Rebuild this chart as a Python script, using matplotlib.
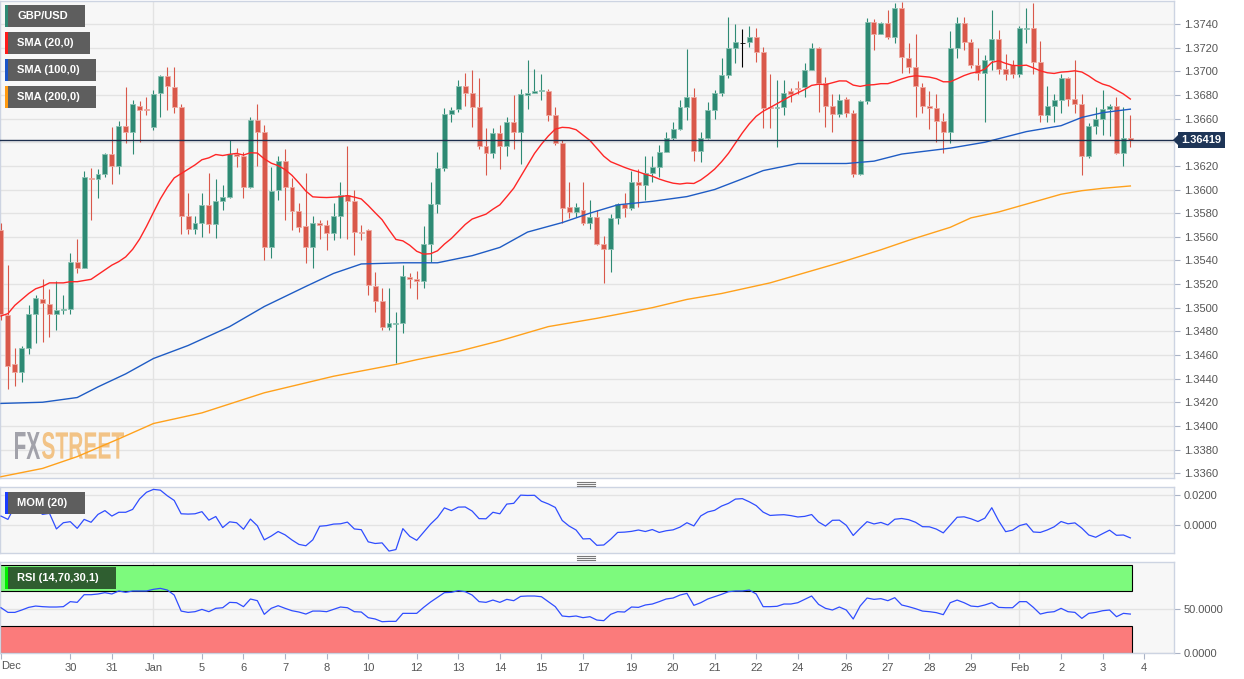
import numpy as np
import matplotlib
matplotlib.use("Agg")
import matplotlib.pyplot as plt
from matplotlib.patches import Rectangle, PathPatch, Polygon
from matplotlib.textpath import TextPath
from matplotlib.font_manager import FontProperties
from matplotlib.transforms import Affine2D
from matplotlib.lines import Line2D

plt.rcParams['font.family'] = ['Liberation Sans', 'DejaVu Sans']

# ---- data: GBP/USD 4h candles ----
opens = [
    1.3566, 1.3494, 1.3452, 1.3446, 1.3466, 1.3495, 1.3507, 1.3503, 1.3495, 1.3498,
    1.3499, 1.3539, 1.3534, 1.3610, 1.3609, 1.3613, 1.3630, 1.3620, 1.3654, 1.3649,
    1.3671, 1.3668, 1.3653, 1.3682, 1.3696, 1.3687, 1.3670, 1.3578, 1.3567, 1.3572,
    1.3587, 1.3571, 1.3590, 1.3594, 1.3630, 1.3628, 1.3602, 1.3659, 1.3649, 1.3551,
    1.3600, 1.3624, 1.3602, 1.3582, 1.3569, 1.3551, 1.3572, 1.3570, 1.3563, 1.3578,
    1.3595, 1.3590, 1.3564, 1.3566, 1.3518, 1.3506, 1.3484, 1.3486, 1.3487, 1.3526,
    1.3524, 1.3523, 1.3554, 1.3588, 1.3618, 1.3664, 1.3668, 1.3688, 1.3682, 1.3670,
    1.3637, 1.3631, 1.3648, 1.3637, 1.3657, 1.3649, 1.3680, 1.3682, 1.3683, 1.3683,
    1.3663, 1.3639, 1.3585, 1.3581, 1.3583, 1.3572, 1.3577, 1.3554, 1.3550, 1.3576,
    1.3588, 1.3584, 1.3606, 1.3604, 1.3614, 1.3619, 1.3632, 1.3644, 1.3651, 1.3670,
    1.3678, 1.3633, 1.3644, 1.3667, 1.3682, 1.3697, 1.3720, 1.3724, 1.3725, 1.3729,
    1.3716, 1.3670, 1.3669, 1.3670, 1.3683, 1.3686, 1.3687, 1.3701, 1.3720, 1.3690,
    1.3671, 1.3664, 1.3677, 1.3665, 1.3613, 1.3675, 1.3742, 1.3732, 1.3741, 1.3729,
    1.3754, 1.3711, 1.3704, 1.3687, 1.3671, 1.3669, 1.3658, 1.3649, 1.3720, 1.3741,
    1.3725, 1.3705, 1.3699, 1.3710, 1.3727, 1.3702, 1.3705, 1.3698, 1.3736, 1.3737,
    1.3708, 1.3663, 1.3671, 1.3676, 1.3694, 1.3677, 1.3672, 1.3628, 1.3654, 1.3660,
    1.3668, 1.3671, 1.3631, 1.3644]
highs = [
    1.3572, 1.3536, 1.3466, 1.3468, 1.3502, 1.3511, 1.3524, 1.3516, 1.3523, 1.3511,
    1.3546, 1.3558, 1.3616, 1.3618, 1.3617, 1.3631, 1.3653, 1.3658, 1.3687, 1.3676,
    1.3675, 1.3678, 1.3684, 1.3697, 1.3704, 1.3704, 1.3672, 1.3597, 1.3578, 1.3597,
    1.3614, 1.3609, 1.3604, 1.3642, 1.3635, 1.3632, 1.3661, 1.3672, 1.3655, 1.3619,
    1.3628, 1.3634, 1.3610, 1.3589, 1.3614, 1.3578, 1.3574, 1.3574, 1.3589, 1.3606,
    1.3637, 1.3600, 1.3570, 1.3567, 1.3530, 1.3517, 1.3517, 1.3496, 1.3536, 1.3529,
    1.3531, 1.3569, 1.3606, 1.3632, 1.3669, 1.3670, 1.3693, 1.3699, 1.3701, 1.3694,
    1.3652, 1.3652, 1.3655, 1.3661, 1.3680, 1.3685, 1.3710, 1.3702, 1.3698, 1.3685,
    1.3670, 1.3642, 1.3606, 1.3589, 1.3606, 1.3591, 1.3583, 1.3561, 1.3579, 1.3589,
    1.3597, 1.3616, 1.3617, 1.3628, 1.3628, 1.3638, 1.3649, 1.3657, 1.3676, 1.3719,
    1.3686, 1.3649, 1.3674, 1.3684, 1.3711, 1.3746, 1.3740, 1.3736, 1.3738, 1.3737,
    1.3721, 1.3698, 1.3693, 1.3693, 1.3686, 1.3692, 1.3707, 1.3724, 1.3721, 1.3695,
    1.3681, 1.3681, 1.3678, 1.3667, 1.3676, 1.3745, 1.3744, 1.3742, 1.3752, 1.3758,
    1.3759, 1.3724, 1.3732, 1.3690, 1.3683, 1.3681, 1.3665, 1.3734, 1.3746, 1.3746,
    1.3727, 1.3720, 1.3714, 1.3752, 1.3735, 1.3715, 1.3710, 1.3738, 1.3754, 1.3758,
    1.3726, 1.3688, 1.3681, 1.3698, 1.3695, 1.3710, 1.3681, 1.3656, 1.3670, 1.3684,
    1.3672, 1.3678, 1.3670, 1.3663]
lows = [
    1.3490, 1.3431, 1.3434, 1.3437, 1.3461, 1.3470, 1.3471, 1.3475, 1.3481, 1.3495,
    1.3495, 1.3529, 1.3534, 1.3574, 1.3593, 1.3611, 1.3605, 1.3613, 1.3639, 1.3630,
    1.3640, 1.3663, 1.3650, 1.3661, 1.3667, 1.3665, 1.3562, 1.3562, 1.3562, 1.3560,
    1.3563, 1.3559, 1.3583, 1.3593, 1.3619, 1.3593, 1.3601, 1.3620, 1.3540, 1.3542,
    1.3591, 1.3574, 1.3566, 1.3564, 1.3538, 1.3534, 1.3558, 1.3549, 1.3557, 1.3559,
    1.3558, 1.3545, 1.3557, 1.3511, 1.3496, 1.3481, 1.3481, 1.3453, 1.3479, 1.3517,
    1.3507, 1.3517, 1.3539, 1.3580, 1.3616, 1.3657, 1.3666, 1.3671, 1.3653, 1.3634,
    1.3612, 1.3627, 1.3617, 1.3628, 1.3634, 1.3622, 1.3668, 1.3682, 1.3676, 1.3658,
    1.3638, 1.3572, 1.3576, 1.3577, 1.3570, 1.3567, 1.3553, 1.3521, 1.3530, 1.3571,
    1.3577, 1.3583, 1.3585, 1.3591, 1.3606, 1.3611, 1.3632, 1.3642, 1.3650, 1.3659,
    1.3624, 1.3623, 1.3643, 1.3660, 1.3679, 1.3694, 1.3707, 1.3704, 1.3721, 1.3708,
    1.3652, 1.3652, 1.3636, 1.3663, 1.3674, 1.3681, 1.3678, 1.3701, 1.3666, 1.3653,
    1.3649, 1.3661, 1.3661, 1.3611, 1.3612, 1.3672, 1.3718, 1.3732, 1.3727, 1.3724,
    1.3699, 1.3699, 1.3661, 1.3665, 1.3651, 1.3640, 1.3631, 1.3639, 1.3711, 1.3718,
    1.3703, 1.3693, 1.3657, 1.3701, 1.3698, 1.3693, 1.3694, 1.3695, 1.3724, 1.3698,
    1.3657, 1.3657, 1.3657, 1.3665, 1.3671, 1.3665, 1.3612, 1.3627, 1.3647, 1.3646,
    1.3645, 1.3630, 1.3620, 1.3636]
closes = [
    1.3495, 1.3451, 1.3446, 1.3466, 1.3495, 1.3508, 1.3504, 1.3495, 1.3498, 1.3499,
    1.3539, 1.3534, 1.3611, 1.3609, 1.3613, 1.3630, 1.3620, 1.3654, 1.3649, 1.3672,
    1.3667, 1.3667, 1.3681, 1.3696, 1.3688, 1.3670, 1.3578, 1.3567, 1.3572, 1.3587,
    1.3571, 1.3590, 1.3594, 1.3630, 1.3628, 1.3602, 1.3659, 1.3649, 1.3551, 1.3599,
    1.3624, 1.3602, 1.3582, 1.3568, 1.3551, 1.3572, 1.3570, 1.3563, 1.3578, 1.3595,
    1.3590, 1.3564, 1.3563, 1.3519, 1.3506, 1.3484, 1.3487, 1.3487, 1.3527, 1.3524,
    1.3523, 1.3554, 1.3588, 1.3618, 1.3664, 1.3667, 1.3688, 1.3682, 1.3670, 1.3637,
    1.3631, 1.3648, 1.3637, 1.3657, 1.3649, 1.3681, 1.3682, 1.3683, 1.3684, 1.3663,
    1.3639, 1.3584, 1.3581, 1.3585, 1.3572, 1.3577, 1.3554, 1.3550, 1.3576, 1.3588,
    1.3584, 1.3606, 1.3604, 1.3614, 1.3619, 1.3632, 1.3644, 1.3651, 1.3670, 1.3678,
    1.3633, 1.3644, 1.3667, 1.3682, 1.3697, 1.3720, 1.3725, 1.3724, 1.3729, 1.3716,
    1.3669, 1.3669, 1.3670, 1.3682, 1.3681, 1.3685, 1.3701, 1.3720, 1.3690, 1.3671,
    1.3664, 1.3676, 1.3665, 1.3613, 1.3675, 1.3742, 1.3732, 1.3741, 1.3729, 1.3754,
    1.3712, 1.3704, 1.3688, 1.3671, 1.3669, 1.3658, 1.3649, 1.3720, 1.3741, 1.3725,
    1.3705, 1.3699, 1.3710, 1.3727, 1.3702, 1.3698, 1.3698, 1.3737, 1.3737, 1.3708,
    1.3663, 1.3671, 1.3676, 1.3694, 1.3677, 1.3672, 1.3628, 1.3654, 1.3660, 1.3668,
    1.3671, 1.3631, 1.3644, 1.36419]
last_price = 1.36419

# indicator values that need history before the first visible candle
sma20_early = [1.3493, 1.3495, 1.3502, 1.3507, 1.3512, 1.3516, 1.3518, 1.3521, 1.3521, 1.3521,
               1.3522, 1.3522, 1.3523, 1.3524, 1.3528, 1.3532, 1.3536, 1.3539, 1.3543]
mom_early = [0.0059, 0.0037, 0.0125, 0.0110, 0.0095, 0.0103, 0.0070, 0.0077, -0.0026, 0.0015,
             0.0022, -0.0022, 0.0037, 0.0018, 0.0070, 0.0095, 0.0059, 0.0084, 0.0084, 0.0103]

sma100_idx = [0, 6, 11, 14, 18, 22, 27, 33, 38, 44, 48, 52, 58, 63, 68, 72, 76, 81, 85, 89,
              94, 99, 103, 107, 110, 115, 122, 126, 130, 137, 142, 148, 153, 156, 159, 163]
sma100_val = [1.3419, 1.3420, 1.3424, 1.3433, 1.3444, 1.3457, 1.3468, 1.3484, 1.3501, 1.3518,
              1.3529, 1.3537, 1.3538, 1.3538, 1.3544, 1.3551, 1.3564, 1.3572, 1.3580, 1.3587,
              1.3590, 1.3594, 1.3600, 1.3609, 1.3616, 1.3622, 1.3622, 1.3624, 1.3630, 1.3635,
              1.3640, 1.3649, 1.3654, 1.3661, 1.3665, 1.3668]
sma200_idx = [0, 6, 11, 17, 22, 29, 38, 48, 57, 60, 66, 72, 79, 86, 94, 99, 104, 111, 121,
              127, 131, 137, 140, 144, 150, 153, 156, 159, 163]
sma200_val = [1.3357, 1.3364, 1.3374, 1.3389, 1.3402, 1.3411, 1.3428, 1.3442, 1.3452, 1.3456,
              1.3463, 1.3472, 1.3484, 1.3491, 1.3500, 1.3507, 1.3512, 1.3521, 1.3538, 1.3549,
              1.3557, 1.3568, 1.3576, 1.3581, 1.3591, 1.3596, 1.3599, 1.3601, 1.3603]

rsi = [51.1, 45.8, 45.8, 48.5, 51.5, 53.0, 52.3, 51.9, 51.9, 52.3, 58.0, 57.2, 65.9, 65.9, 66.7,
       68.2, 66.7, 70.1, 68.6, 70.1, 70.1, 70.1, 72.0, 73.1, 71.2, 65.5, 47.3, 45.8, 46.6, 49.2,
       46.6, 50.4, 51.1, 57.2, 56.8, 52.3, 61.0, 59.1, 43.6, 50.4, 53.4, 50.4, 47.7, 46.2, 43.9,
       47.3, 47.3, 46.6, 49.2, 51.9, 51.1, 46.6, 46.2, 39.8, 38.3, 35.2, 35.6, 35.6, 44.7, 44.7,
       44.7, 51.5, 57.6, 62.9, 68.2, 68.6, 70.5, 69.3, 65.5, 58.0, 57.2, 59.8, 57.2, 60.6, 59.1,
       64.0, 64.4, 64.4, 63.6, 58.0, 52.3, 41.7, 40.9, 41.7, 39.8, 40.9, 37.1, 36.4, 43.6, 46.6,
       46.2, 51.9, 51.5, 54.2, 55.3, 58.0, 61.0, 62.1, 65.5, 67.4, 53.8, 56.8, 61.0, 63.6, 66.3,
       69.3, 70.1, 70.1, 71.2, 66.7, 52.3, 52.3, 52.7, 55.3, 55.3, 56.8, 60.6, 64.4, 54.9, 50.4,
       48.5, 51.9, 48.5, 38.3, 53.0, 62.1, 60.6, 61.4, 59.1, 62.5, 54.2, 52.3, 50.0, 47.3, 46.6,
       45.5, 43.2, 56.8, 59.8, 56.8, 53.0, 52.3, 54.2, 56.8, 51.5, 51.1, 51.1, 58.0, 58.0, 51.5,
       43.9, 45.8, 46.6, 50.4, 46.6, 45.8, 39.0, 44.7, 45.8, 47.7, 48.5, 40.9, 44.7, 43.9]

tick_pos = [10, 16, 22, 29, 35, 41, 47, 53, 60, 66, 72, 78, 84, 91, 97, 103, 109, 115, 122,
            128, 134, 140, 147, 153, 159, 165]
tick_lab = ['30', '31', 'Jan', '5', '6', '7', '8', '10', '12', '13', '14', '15', '17', '19',
            '20', '21', '22', '24', '26', '27', '28', '29', 'Feb', '2', '3', '4']
month_pos = [22, 147]

GREEN, RED = '#2e8a74', '#d9584a'
GRID, FRAME = '#e3e3e3', '#cdd4e2'
TXT = '#555555'

W, H = 1244, 679
fig = plt.figure(figsize=(W / 100, H / 100), dpi=100)
fig.patch.set_facecolor('white')


def fbox(x, y, w, h):
    # pixel box (origin top-left) -> figure fraction
    return [x / W, 1 - (y + h) / H, w / W, h / H]


ax = fig.add_axes(fbox(0, 1, 1174, 477))
axm = fig.add_axes(fbox(0, 487.3, 1174, 65.4))
axr = fig.add_axes(fbox(0, 562.3, 1174, 91))

n = len(closes)
idx = np.arange(n)
o, hi, lo, c = map(np.array, (opens, highs, lows, closes))

for a in (ax, axm, axr):
    a.set_facecolor('#f7f7f7')
    a.set_xlim(-0.144, 169.3)
    for s in a.spines.values():
        s.set_color(FRAME)
        s.set_linewidth(1)
    a.yaxis.tick_right()
    a.tick_params(axis='y', length=4, width=0.8, color='#aab3c6', labelsize=8,
                  labelcolor=TXT, pad=3)
    a.grid(axis='y', color=GRID, lw=1, zorder=0)
    a.set_axisbelow(True)
    for m in month_pos:
        a.axvline(m, color=GRID, lw=1, zorder=0.5)
ax.tick_params(axis='x', bottom=False, labelbottom=False)
axm.tick_params(axis='x', bottom=False, labelbottom=False)

# ---- main panel ----
ax.set_ylim(1.33559, 1.37595)
yt = np.round(np.arange(1.3360, 1.37401, 0.002), 4)
ax.set_yticks(yt)
ax.set_yticklabels(['' if abs(v - 1.3640) < 1e-6 else f'{v:.4f}' for v in yt])

cols = np.where(c > o, GREEN, np.where(c < o, RED, '#000000'))
edges = np.where(c > o, '#8cc2b3', np.where(c < o, '#eeaaa2', '#000000'))
ax.vlines(idx, lo, hi, colors=cols, lw=0.8, zorder=3)
body_lo = np.minimum(o, c)
body_h = np.maximum(np.abs(c - o), 0.00003)
ax.bar(idx, body_h, bottom=body_lo, width=0.72, color=cols, edgecolor=edges,
       linewidth=0.6, zorder=4)

sma20 = np.array([sma20_early[i] if i < 19 else c[i - 19:i + 1].mean() for i in idx])
ax.plot(idx, sma20, color='#ff2626', lw=1.0, zorder=5)
ax.plot(sma100_idx, sma100_val, color='#1f5cc4', lw=1.0, zorder=5)
ax.plot(sma200_idx, sma200_val, color='#ffa11c', lw=1.0, zorder=5)
ax.axhline(last_price, color='#1e2f4e', lw=1, zorder=6)

# watermark
fp = FontProperties(family=['Liberation Sans Narrow', 'Liberation Sans'], weight='bold')


def logo(txt, x0, x1, color):
    tp = TextPath((0, 0), txt, size=10, prop=fp)
    bb = tp.get_extents()
    tr = Affine2D().translate(-bb.x0, -bb.y0).scale((x1 - x0) / bb.width, 27 / bb.height) \
        .translate(x0, H - 459)
    ax.add_patch(PathPatch(tp, transform=tr, fc=color, ec='none', zorder=1))


logo('FX', 15, 40, '#a2a2aa')
logo('STREET', 42, 124, '#f2c386')

# ---- momentum ----
mom = np.array([mom_early[i] if i < 20 else c[i] - c[i - 20] for i in idx])
axm.set_ylim(-0.01828, 0.02488)
axm.set_yticks([0.0, 0.02])
axm.set_yticklabels(['0.0000', '0.0200'])
axm.plot(idx, mom, color='#2f4dff', lw=0.9, zorder=3)

# ---- RSI ----
axr.set_ylim(-0.68, 102.7)
axr.set_yticks([0, 50])
axr.set_yticklabels(['0.0000', '50.0000'])
band_end = n - 1 + 0.2
axr.add_patch(Rectangle((-0.144, 70), band_end + 0.144, 30, fc='#7dfa7d', ec='black',
                        lw=0.8, zorder=1))
axr.add_patch(Rectangle((-0.144, 0), band_end + 0.144, 30, fc='#fb7b7b', ec='black',
                        lw=0.8, zorder=1))
axr.plot(idx, rsi, color='#2f4dff', lw=0.9, zorder=3)
axr.set_xticks([0] + tick_pos)
axr.set_xticklabels([''] + tick_lab)
axr.tick_params(axis='x', length=4, width=0.8, color='#aab3c6', labelsize=8,
                labelcolor=TXT, pad=3)
fig.text(1 / W, 1 - 666 / H, 'Dec', ha='left', va='center', fontsize=8, color=TXT)

# ---- legend boxes ----
def tag(x, y, w, h, strip, label, fc='#5e5e5e'):
    fig.add_artist(Rectangle(fbox(x, y, w, h)[:2], w / W, h / H, transform=fig.transFigure,
                             fc=fc, ec='none', zorder=5))
    fig.add_artist(Rectangle(fbox(x, y, 3, h)[:2], 3 / W, h / H, transform=fig.transFigure,
                             fc=strip, ec='none', zorder=6))
    fig.text((x + 12) / W, 1 - (y + h / 2) / H, label, color='white', fontsize=8,
             fontweight='bold', va='center', ha='left', zorder=7)


tag(5, 5, 80, 22, '#2e8a74', 'GBP/USD')
tag(5, 32, 85, 22, '#ff1a1a', 'SMA (20,0)')
tag(5, 59, 91, 22, '#1a55c8', 'SMA (100,0)')
tag(5, 86, 91, 22, '#ff9a10', 'SMA (200,0)')
tag(5, 492, 80, 22, '#1a3cff', 'MOM (20)')
tag(5, 567, 111, 22, '#00ee00', 'RSI (14,70,30,1)', fc='#2f5e30')

# current price label
fig.text(1201.5 / W, 1 - 140 / H, f'{last_price:.5f}', ha='center', va='center', color='white',
         fontsize=8, fontweight='bold', zorder=8,
         bbox=dict(boxstyle='square,pad=0.28', fc='#1e3557', ec='none'))
fig.add_artist(Polygon([[1173 / W, 1 - 140 / H], [1178 / W, 1 - 135 / H], [1178 / W, 1 - 145 / H]],
                       closed=True, transform=fig.transFigure, fc='#1e3557', ec='none', zorder=8))

# panel resize handles
for yy in (482, 484, 486, 556, 558, 560):
    fig.add_artist(Line2D([577 / W, 595 / W], [1 - yy / H, 1 - yy / H], transform=fig.transFigure,
                          color='#7a7a7a', lw=0.8))

fig.savefig('out.png', dpi=100)
